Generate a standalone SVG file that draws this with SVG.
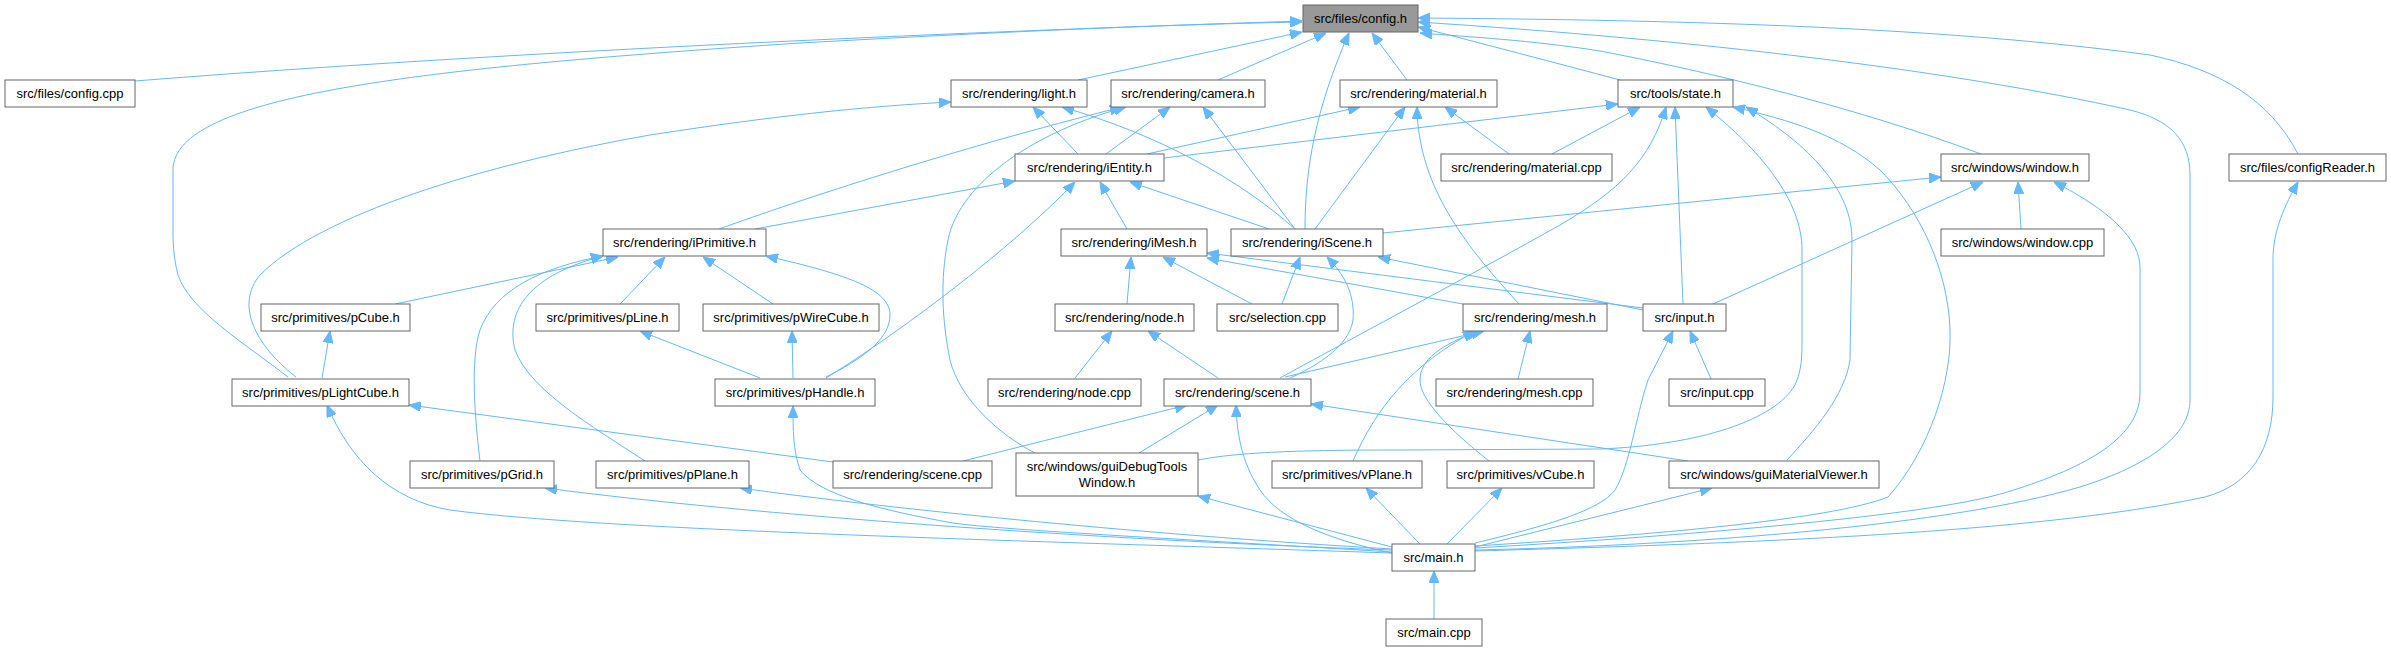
<svg xmlns="http://www.w3.org/2000/svg" width="2391" height="651" viewBox="0 0 2391 651">
<style>
.n rect{fill:#ffffff;stroke:#666666;stroke-width:1}
.n text{font-family:"Liberation Sans",Arial,sans-serif;font-size:13px;fill:#000000;text-anchor:middle}
#n_config_h rect{fill:#999999}
.e path{fill:none;stroke:#63b8ff;stroke-width:1;marker-end:url(#ah)}
</style>
<defs>
<marker id="ah" markerWidth="12" markerHeight="10" refX="12" refY="5" orient="auto" markerUnits="userSpaceOnUse">
<path d="M0,0 L12,5 L0,10 z" fill="#63b8ff" stroke="#63b8ff" stroke-width="1"/>
</marker>
</defs>
<rect width="2391" height="651" fill="#ffffff"/>
<g id="edges" class="e">
<path d="M135,81 C400,60 800,37 1302,21"/>
<path d="M288,377 C240,340 190,310 178,275 C173,255 173,240 173,230 L173,170 C173,95 420,68 800,43 C1000,32 1150,25 1302,22"/>
<path d="M1078,80 L1302,32"/>
<path d="M1218,80 L1326,33"/>
<path d="M1305,229 C1305,170 1315,110 1349,33"/>
<path d="M1407,80 L1372,33"/>
<path d="M1620,80 C1560,64 1480,43 1418,27"/>
<path d="M1981,154 C1850,105 1700,70 1600,51 C1530,40 1470,37 1420,33"/>
<path d="M1475,550 C1700,545 1950,525 2080,487 C2150,465 2190,435 2190,400 L2190,175 C2190,140 2170,120 2130,110 C1950,70 1700,40 1418,22"/>
<path d="M2298,154 C2270,100 2220,70 2150,55 C1950,28 1700,20 1418,18"/>
<path d="M296,377 C255,345 235,305 260,275 C320,215 480,165 650,135 C780,115 870,106 951,102"/>
<path d="M1078,154 L1033,107"/>
<path d="M1295,229 C1240,180 1160,135 1062,107"/>
<path d="M719,229 C800,200 950,150 1122,107"/>
<path d="M1035,453 C1000,435 960,400 950,360 C942,320 940,280 948,240 C960,180 1040,130 1126,107"/>
<path d="M1106,154 L1170,107"/>
<path d="M1295,229 L1203,107"/>
<path d="M1147,154 L1360,107"/>
<path d="M1315,229 L1405,107"/>
<path d="M1519,304 C1470,250 1418,190 1417,107"/>
<path d="M1509,154 L1445,107"/>
<path d="M1164,158 L1618,104"/>
<path d="M1552,154 L1640,107"/>
<path d="M1280,378 C1340,345 1480,270 1560,225 C1620,190 1650,160 1666,107"/>
<path d="M1683,304 L1675,107"/>
<path d="M1198,460 C1240,452 1300,450 1400,450 L1600,449 C1700,445 1775,420 1795,385 C1802,370 1802,355 1802,340 L1802,250 C1802,200 1760,150 1706,107"/>
<path d="M1787,460 C1815,430 1845,395 1850,360 L1852,240 C1852,190 1810,145 1746,107"/>
<path d="M1475,546 C1650,535 1830,520 1888,497 C1930,450 1952,380 1950,330 C1948,270 1920,210 1880,170 C1840,135 1790,120 1733,107"/>
<path d="M755,229 L1015,181"/>
<path d="M1127,229 L1100,182"/>
<path d="M1269,229 L1130,182"/>
<path d="M826,378 C880,345 1000,260 1075,182"/>
<path d="M395,304 L618,257"/>
<path d="M620,304 L665,257"/>
<path d="M773,304 L703,257"/>
<path d="M480,461 C475,420 470,360 480,330 C495,290 540,268 603,256"/>
<path d="M645,461 C590,425 530,390 515,350 C505,310 530,275 603,256"/>
<path d="M826,377 C860,360 890,340 890,315 C890,290 850,275 766,256"/>
<path d="M322,378 L330,331"/>
<path d="M760,378 L640,331"/>
<path d="M793,378 L792,331"/>
<path d="M1127,304 L1131,257"/>
<path d="M1252,304 L1163,257"/>
<path d="M1463,304 L1207,258"/>
<path d="M1643,308 L1207,253"/>
<path d="M1282,304 L1300,257"/>
<path d="M1290,378 C1330,360 1350,340 1353,320 C1355,295 1345,275 1327,257"/>
<path d="M1643,310 L1378,257"/>
<path d="M1383,233 L1941,177"/>
<path d="M1713,304 L1983,182"/>
<path d="M2021,229 L2018,182"/>
<path d="M1475,548 C1700,535 1930,515 2004,493 C2080,470 2140,440 2140,393 L2140,267 C2140,240 2110,210 2054,182"/>
<path d="M1075,378 L1112,331"/>
<path d="M1218,378 L1148,331"/>
<path d="M1285,377 L1484,331"/>
<path d="M1353,461 C1375,410 1410,365 1475,331"/>
<path d="M1489,461 C1450,430 1420,400 1420,380 C1420,360 1440,345 1479,331"/>
<path d="M1518,379 L1530,331"/>
<path d="M963,461 L1187,405"/>
<path d="M1139,453 L1218,405"/>
<path d="M1392,553 C1330,540 1280,520 1260,490 C1240,460 1237,430 1236,405"/>
<path d="M1688,461 L1311,404"/>
<path d="M833,462 L409,405"/>
<path d="M1392,553 C1000,540 600,530 450,510 C390,500 350,460 327,405"/>
<path d="M1392,550 C1100,540 750,515 545,488"/>
<path d="M1392,549 C1150,535 900,510 740,488"/>
<path d="M1392,552 C1200,540 1000,530 953,523 C880,510 820,495 800,470 C793,450 793,430 793,406"/>
<path d="M1392,547 L1198,496"/>
<path d="M1420,544 L1366,488"/>
<path d="M1447,544 L1502,488"/>
<path d="M1475,547 L1712,488"/>
<path d="M1475,543 C1550,525 1600,510 1615,490 C1630,465 1635,420 1648,380 L1673,331"/>
<path d="M1711,379 L1690,331"/>
<path d="M1434,619 L1434,571"/>
<path d="M1475,551 C1800,542 2050,530 2205,497 C2250,485 2273,450 2273,397 L2273,260 C2273,230 2285,205 2298,182"/>
</g>
<g id="n_config_h" class="n"><rect x="1303" y="5" width="115" height="27"/><text x="1360.5" y="23">src/files/config.h</text></g>
<g id="n_config_cpp" class="n"><rect x="5" y="80" width="130" height="27"/><text x="70" y="98">src/files/config.cpp</text></g>
<g id="n_light_h" class="n"><rect x="951" y="80" width="136" height="27"/><text x="1019" y="98">src/rendering/light.h</text></g>
<g id="n_camera_h" class="n"><rect x="1111" y="80" width="154" height="27"/><text x="1188" y="98">src/rendering/camera.h</text></g>
<g id="n_material_h" class="n"><rect x="1340" y="80" width="157" height="27"/><text x="1418.5" y="98">src/rendering/material.h</text></g>
<g id="n_state_h" class="n"><rect x="1618" y="80" width="115" height="27"/><text x="1675.5" y="98">src/tools/state.h</text></g>
<g id="n_iEntity_h" class="n"><rect x="1015" y="154" width="149" height="27"/><text x="1089.5" y="172">src/rendering/iEntity.h</text></g>
<g id="n_material_cpp" class="n"><rect x="1441" y="154" width="171" height="27"/><text x="1526.5" y="172">src/rendering/material.cpp</text></g>
<g id="n_window_h" class="n"><rect x="1941" y="154" width="148" height="27"/><text x="2015" y="172">src/windows/window.h</text></g>
<g id="n_configReader_h" class="n"><rect x="2229" y="154" width="157" height="27"/><text x="2307.5" y="172">src/files/configReader.h</text></g>
<g id="n_iPrimitive_h" class="n"><rect x="603" y="229" width="163" height="27"/><text x="684.5" y="247">src/rendering/iPrimitive.h</text></g>
<g id="n_iMesh_h" class="n"><rect x="1061" y="229" width="146" height="27"/><text x="1134" y="247">src/rendering/iMesh.h</text></g>
<g id="n_iScene_h" class="n"><rect x="1231" y="229" width="152" height="27"/><text x="1307" y="247">src/rendering/iScene.h</text></g>
<g id="n_window_cpp" class="n"><rect x="1941" y="229" width="163" height="27"/><text x="2022.5" y="247">src/windows/window.cpp</text></g>
<g id="n_pCube_h" class="n"><rect x="261" y="304" width="149" height="27"/><text x="335.5" y="322">src/primitives/pCube.h</text></g>
<g id="n_pLine_h" class="n"><rect x="536" y="304" width="143" height="27"/><text x="607.5" y="322">src/primitives/pLine.h</text></g>
<g id="n_pWireCube_h" class="n"><rect x="703" y="304" width="176" height="27"/><text x="791" y="322">src/primitives/pWireCube.h</text></g>
<g id="n_node_h" class="n"><rect x="1055" y="304" width="139" height="27"/><text x="1124.5" y="322">src/rendering/node.h</text></g>
<g id="n_selection_cpp" class="n"><rect x="1217" y="304" width="121" height="27"/><text x="1277.5" y="322">src/selection.cpp</text></g>
<g id="n_mesh_h" class="n"><rect x="1463" y="304" width="144" height="27"/><text x="1535" y="322">src/rendering/mesh.h</text></g>
<g id="n_input_h" class="n"><rect x="1643" y="304" width="83" height="27"/><text x="1684.5" y="322">src/input.h</text></g>
<g id="n_pLightCube_h" class="n"><rect x="232" y="379" width="177" height="27"/><text x="320.5" y="397">src/primitives/pLightCube.h</text></g>
<g id="n_pHandle_h" class="n"><rect x="715" y="379" width="160" height="27"/><text x="795" y="397">src/primitives/pHandle.h</text></g>
<g id="n_node_cpp" class="n"><rect x="988" y="379" width="153" height="27"/><text x="1064.5" y="397">src/rendering/node.cpp</text></g>
<g id="n_scene_h" class="n"><rect x="1164" y="379" width="147" height="27"/><text x="1237.5" y="397">src/rendering/scene.h</text></g>
<g id="n_mesh_cpp" class="n"><rect x="1436" y="379" width="157" height="27"/><text x="1514.5" y="397">src/rendering/mesh.cpp</text></g>
<g id="n_input_cpp" class="n"><rect x="1669" y="379" width="96" height="27"/><text x="1717" y="397">src/input.cpp</text></g>
<g id="n_pGrid_h" class="n"><rect x="410" y="461" width="144" height="27"/><text x="482" y="479">src/primitives/pGrid.h</text></g>
<g id="n_pPlane_h" class="n"><rect x="596" y="461" width="153" height="27"/><text x="672.5" y="479">src/primitives/pPlane.h</text></g>
<g id="n_scene_cpp" class="n"><rect x="833" y="461" width="159" height="27"/><text x="912.5" y="479">src/rendering/scene.cpp</text></g>
<g id="n_guiDebugToolsWindow_h" class="n"><rect x="1016" y="453" width="182" height="43"/><text x="1107" y="471">src/windows/guiDebugTools</text><text x="1107" y="487">Window.h</text></g>
<g id="n_vPlane_h" class="n"><rect x="1272" y="461" width="150" height="27"/><text x="1347" y="479">src/primitives/vPlane.h</text></g>
<g id="n_vCube_h" class="n"><rect x="1447" y="461" width="147" height="27"/><text x="1520.5" y="479">src/primitives/vCube.h</text></g>
<g id="n_guiMaterialViewer_h" class="n"><rect x="1669" y="461" width="210" height="27"/><text x="1774" y="479">src/windows/guiMaterialViewer.h</text></g>
<g id="n_main_h" class="n"><rect x="1392" y="544" width="83" height="27"/><text x="1433.5" y="562">src/main.h</text></g>
<g id="n_main_cpp" class="n"><rect x="1386" y="619" width="96" height="27"/><text x="1434" y="637">src/main.cpp</text></g>
</svg>
